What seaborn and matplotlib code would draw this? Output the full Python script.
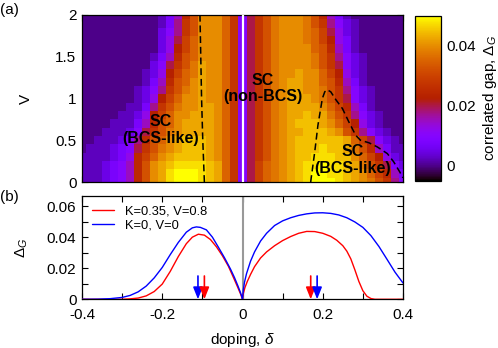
import numpy as np
import pandas as pd
import matplotlib
matplotlib.use("Agg")
import matplotlib.pyplot as plt
from matplotlib.ticker import MultipleLocator, FuncFormatter, FixedLocator
import seaborn as sns

# ---------------- data ----------------
# heat map grid: doping centres -0.40..0.40 (step 0.02), V centres 0..2 (step 0.1)
doping_min, doping_step, n_doping = -0.40, 0.02, 41
V_min, V_step, n_V = 0.0, 0.1, 21
level_step = 0.0025          # one character level = 0.0025 in gap (base-36 digit)
gap_rows = [                  # bottom row (V=0) first
    "1112346adghjkkk" "jiheb48cefg" "hijkkkjihgfdb74",
    "1112346adghjkkk" "jiheb48cefg" "hijkkjjihgeca63",
    "1112346adghijjj" "jiheb48cefg" "hijjkjjihfdb842",
    "1111235aceghiii" "ihgeb48bdfg" "hiijjjiigec9521",
    "01112348bdfghii" "ihgeb48bdfg" "hiiijiihfda6311",
    "00111247adeghii" "ihgeb48bdfg" "hiiiiiihec84210",
    "000111248bdfghh" "hhgeb48bdfg" "hhiiihgdb742100",
    "000011136adeghh" "hhgeb48bdfg" "hiiihgec9521000",
    "0000011259ceggh" "hhgeb48bdfg" "hhihhfdb7421000",
    "0000001137bdfgg" "hhgeb48bdfg" "hhhhgeca6310000",
    "00000001259cegg" "hggeb48bdfg" "hhhgfdb84210000",
    "00000001247bdfg" "hggeb48bdfg" "hhggfdb74210000",
    "00000000136adeg" "hggeb48bdfg" "hhggeda63100000",
    "000000001259cef" "hggeb48bdfg" "ghggec952100000",
    "000000000248bdf" "hggeb48bdfg" "gggfdb842100000",
    "000000000136ade" "gggeb48bdfg" "gggfdb742100000",
    "0000000000259ce" "gggeb48bdfg" "gggeda631000000",
    "0000000000258ce" "gggeb48bdfg" "ggfec9531000000",
    "0000000000247bd" "gggeb48bdfg" "ggfec8521000000",
    "0000000000137bd" "gggeb48bdfg" "ggfdb7421000000",
    "0000000000136ad" "gggeb48bdfg" "ggfda6310000000",
]

dash_left_doping = [-0.095, -0.099, -0.102, -0.104, -0.106]
dash_left_V = [0.0, 0.5, 1.0, 1.5, 2.0]
dash_right_doping = [0.170, 0.171, 0.180, 0.188, 0.199, 0.205, 0.211, 0.220, 0.232, 0.249,
                     0.265, 0.282, 0.294, 0.315, 0.336, 0.361, 0.377, 0.392, 0.400]
dash_right_V = [0.00, 0.04, 0.36, 0.68, 1.00, 1.08, 1.105, 1.08, 0.99, 0.88,
                0.72, 0.56, 0.50, 0.47, 0.42, 0.34, 0.24, 0.12, 0.05]

red_doping = [-0.40, -0.30, -0.28, -0.26, -0.24, -0.22, -0.20, -0.18, -0.16, -0.14,
              -0.125, -0.11, -0.095, -0.08, -0.065, -0.05, -0.035, -0.022, -0.012, -0.005,
              0.0, 0.002, 0.006, 0.012, 0.02, 0.03, 0.045, 0.06, 0.08, 0.10,
              0.12, 0.14, 0.16, 0.18, 0.20, 0.22, 0.235, 0.25, 0.26, 0.27,
              0.28, 0.29, 0.30, 0.31, 0.32, 0.33, 0.40]
red_gap = [0.0, 0.0, 0.0003, 0.0008, 0.0022, 0.005, 0.0098, 0.018, 0.0275, 0.0358,
           0.0400, 0.0419, 0.0413, 0.0385, 0.0338, 0.028, 0.0212, 0.0137, 0.0078, 0.0035,
           0.0, 0.0035, 0.0075, 0.0115, 0.016, 0.021, 0.0266, 0.0305, 0.0345, 0.0378,
           0.0404, 0.0425, 0.0437, 0.0436, 0.0425, 0.0405, 0.038, 0.0345, 0.031, 0.026,
           0.019, 0.0115, 0.0055, 0.002, 0.0005, 0.0, 0.0]

blue_doping = [-0.40, -0.36, -0.33, -0.30, -0.28, -0.26, -0.24, -0.22, -0.20, -0.18,
               -0.16, -0.14, -0.125, -0.115, -0.105, -0.09, -0.075, -0.06, -0.045, -0.03,
               -0.02, -0.012, -0.006, -0.002, 0.0, 0.002, 0.005, 0.01, 0.02, 0.03,
               0.045, 0.06, 0.08, 0.10, 0.12, 0.14, 0.16, 0.18, 0.20, 0.22,
               0.24, 0.26, 0.28, 0.30, 0.32, 0.34, 0.36, 0.38, 0.40]
blue_gap = [0.0, 0.0001, 0.0004, 0.0012, 0.0025, 0.0048, 0.0085, 0.0138, 0.0205, 0.0288,
            0.0366, 0.0432, 0.0460, 0.0466, 0.0463, 0.0447, 0.0400, 0.0335, 0.0268, 0.0195,
            0.0140, 0.0090, 0.005, 0.002, 0.0, 0.006, 0.011, 0.0165, 0.0245, 0.0305,
            0.0375, 0.0425, 0.0475, 0.0505, 0.0525, 0.054, 0.055, 0.0556, 0.0557, 0.0553,
            0.0543, 0.0525, 0.0498, 0.0463, 0.0410, 0.0340, 0.0258, 0.0175, 0.0105]

arrow_doping = [-0.111, -0.095, 0.170, 0.186]
arrow_colors = ["blue", "red", "red", "blue"]
arrow_top = 0.015

legend_labels = ["K=0.35, V=0.8", "K=0, V=0"]

# ---------------- style ----------------
sns.set_theme(style="ticks")
plt.rcParams["font.family"] = ["Liberation Sans", "DejaVu Sans"]
plt.rcParams["axes.unicode_minus"] = False
plt.rcParams["mathtext.fontset"] = "custom"
plt.rcParams["mathtext.rm"] = "Liberation Sans"
plt.rcParams["mathtext.it"] = "Liberation Sans:italic"
for k in ("text.color", "axes.labelcolor", "xtick.color", "ytick.color", "axes.edgecolor"):
    plt.rcParams[k] = "black"
FS = 11

W, H = 498, 348
fig = plt.figure(figsize=(W / 100, H / 100), dpi=100)
ax1 = fig.add_axes([82 / W, 1 - 182 / H, 321 / W, 167 / H])
ax2 = fig.add_axes([82 / W, 1 - 299.3 / H, 321 / W, 103.3 / H])
cax = fig.add_axes([415 / W, 1 - 180.7 / H, 26 / W, 164.7 / H])

# ---------------- heat map ----------------
Z = np.array([[int(c, 36) for c in row] for row in gap_rows]) * level_step
x_edges = doping_min + doping_step * (np.arange(n_doping + 1) - 0.5)
y_edges = V_min + V_step * (np.arange(n_V + 1) - 0.5)
mesh = ax1.pcolormesh(x_edges, y_edges, Z, cmap="gnuplot", vmin=-0.005, vmax=0.05,
                      shading="flat", rasterized=True)
ax1.set_xlim(-0.4, 0.4)
ax1.set_ylim(0, 2)
ax1.axvline(0, color="white", lw=1.6, zorder=3)
ax1.plot(dash_left_doping, dash_left_V, color="black", lw=1.1, ls=(0, (4.5, 2.5)), zorder=4)
ax1.plot(dash_right_doping, dash_right_V, color="black", lw=1.1, ls=(0, (4.5, 2.5)), zorder=4)

tfont = dict(fontsize=11.5, fontweight="bold", ha="center", va="center",
             linespacing=1.15, color="black")
ax1.text(-0.205, 0.62, "SC\n(BCS-like)", **tfont)
ax1.text(0.05, 1.12, "SC\n(non-BCS)", **tfont)
ax1.text(0.275, 0.26, "SC\n(BCS-like)", **tfont)

ax1.xaxis.set_major_locator(MultipleLocator(0.1))
ax1.xaxis.set_major_formatter(FuncFormatter(lambda v, p: ""))
ax1.yaxis.set_major_locator(MultipleLocator(0.25))
ax1.yaxis.set_major_formatter(FuncFormatter(
    lambda v, p: ("%g" % round(v, 2)) if abs(v / 0.5 - round(v / 0.5)) < 1e-6 else ""))
ax1.set_ylabel("V", fontsize=FS)
ax1.yaxis.set_label_coords(-0.153, 0.5)

# ---------------- colorbar ----------------
cb = fig.colorbar(mesh, cax=cax)
cb.set_ticks([0, 0.02, 0.04])
cb.ax.yaxis.set_major_formatter(FuncFormatter(lambda v, p: "%g" % round(v, 3)))
cb.ax.yaxis.set_minor_locator(FixedLocator([0.01, 0.03]))
cb.outline.set_linewidth(0.9)
cb.outline.set_edgecolor("black")
cax.tick_params(which="both", direction="in", left=True, right=True, length=4.5,
                width=0.8, labelsize=FS, pad=4, color="black")
cax.set_ylabel("correlated gap, $\\Delta_G$", fontsize=FS)
cax.yaxis.set_label_position("right")
cax.yaxis.set_label_coords(2.55, 0.5)

# ---------------- bottom panel ----------------
ax2.axvline(0, color="#999999", lw=1.5, zorder=1)
df_red = pd.DataFrame({"doping": red_doping, "gap": red_gap})
df_blue = pd.DataFrame({"doping": blue_doping, "gap": blue_gap})
sns.lineplot(data=df_red, x="doping", y="gap", ax=ax2, color="#ff0000", lw=1.0,
             label=legend_labels[0], sort=False, estimator=None, zorder=3)
sns.lineplot(data=df_blue, x="doping", y="gap", ax=ax2, color="#0000ff", lw=1.0,
             label=legend_labels[1], sort=False, estimator=None, zorder=3)
for i, (xa, ca) in enumerate(zip(arrow_doping, arrow_colors)):
    ax2.annotate("", xy=(xa, 0), xytext=(xa, arrow_top),
                 arrowprops=dict(arrowstyle="-|>,head_length=0.55,head_width=0.22",
                                 color=ca, lw=1.2, shrinkA=0, shrinkB=0,
                                 mutation_scale=13),
                 zorder=5 + i, annotation_clip=False)
ax2.set_xlim(-0.4, 0.4)
ax2.set_ylim(0, 0.0665)
ax2.xaxis.set_major_locator(MultipleLocator(0.1))
ax2.xaxis.set_major_formatter(FuncFormatter(
    lambda v, p: ("%g" % round(v, 2)) if abs(v / 0.2 - round(v / 0.2)) < 1e-6 else ""))
ax2.yaxis.set_major_locator(MultipleLocator(0.01))
ax2.yaxis.set_major_formatter(FuncFormatter(
    lambda v, p: ("%g" % round(v, 3)) if abs(v / 0.02 - round(v / 0.02)) < 1e-6 else ""))
ax2.set_xlabel("doping, $\\delta$", fontsize=FS)
ax2.set_ylabel("$\\Delta_G$", fontsize=FS)
ax2.yaxis.set_label_coords(-0.162, 0.5)
ax2.xaxis.set_label_coords(0.5, -0.31)
leg = ax2.legend(loc="upper left", bbox_to_anchor=(0.0, 1.0), frameon=False,
                 fontsize=9.3, handlelength=1.7, handletextpad=0.9,
                 borderaxespad=0.35, labelspacing=0.15)

for ax in (ax1, ax2):
    ax.tick_params(which="both", direction="in", top=True, right=True, length=4.5,
                   width=0.8, labelsize=FS, color="black", pad=4)
    for s in ax.spines.values():
        s.set_linewidth(0.9)
        s.set_color("black")
ax2.tick_params(axis="x", pad=6)

fig.text(0 / W, 1 - 10 / H, "(a)", fontsize=FS, ha="left", va="center")
fig.text(0 / W, 1 - 197 / H, "(b)", fontsize=FS, ha="left", va="center")

fig.savefig("out.png", dpi=100)
